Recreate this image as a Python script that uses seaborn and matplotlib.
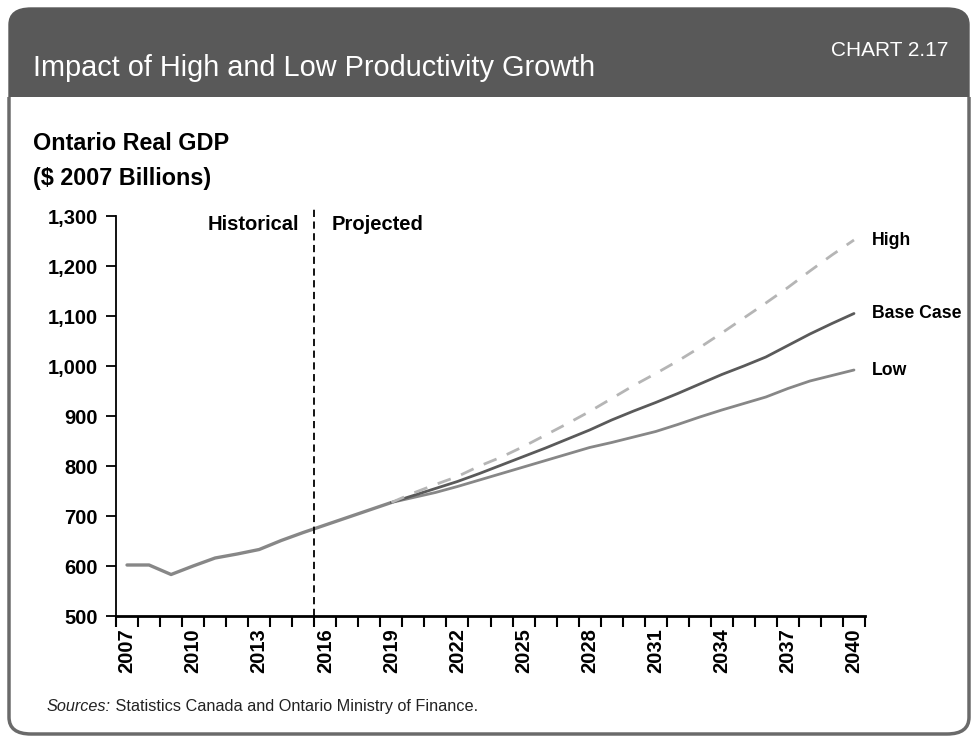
import matplotlib
matplotlib.use("Agg")
import matplotlib.pyplot as plt
import matplotlib.font_manager as fm
from matplotlib.patches import FancyBboxPatch, Rectangle
from matplotlib.ticker import FixedLocator, FuncFormatter
import numpy as np
import pandas as pd
import seaborn as sns

# ---------------- data ----------------
hist_years = list(range(2007, 2020))
historical = [602, 602, 583, 600, 616, 624, 633, 651, 667, 682, 697, 712, 727]

proj_years = list(range(2019, 2041))
high = [727, 746, 763, 779, 800, 818, 839, 862, 885, 909, 935, 961, 985, 1010,
        1037, 1066, 1096, 1126, 1157, 1190, 1222, 1252]
base_case = [727, 741, 755, 769, 785, 802, 819, 836, 854, 872, 892, 910, 927, 945,
             964, 983, 1000, 1018, 1041, 1064, 1085, 1105]
low = [727, 737, 747, 759, 772, 785, 798, 811, 824, 837, 847, 858, 869, 883,
       898, 912, 925, 938, 955, 970, 981, 992]

x_tick_labels = [str(y) for y in range(2007, 2041, 3)]
y_ticks = [500, 600, 700, 800, 900, 1000, 1100, 1200, 1300]
series_names = ["High", "Base Case", "Low"]

title = "Impact of High and Low Productivity Growth"
chart_no = "CHART 2.17"
ylabel_lines = ["Ontario Real GDP", "($ 2007 Billions)"]
source_italic = "Sources:"
source_text = " Statistics Canada and Ontario Ministry of Finance."

# ---------------- fonts ----------------
sns.set_theme(style="white")
names = {f.name for f in fm.fontManager.ttflist}
FONT = "Liberation Sans Narrow" if "Liberation Sans Narrow" in names else "Liberation Sans"
plt.rcParams["font.family"] = [FONT, "DejaVu Sans"]
plt.rcParams["text.color"] = "black"

W, H = 979, 742
fig = plt.figure(figsize=(W / 100, H / 100), dpi=100)
fig.patch.set_facecolor("white")


def fx(px):
    return px / W


def fy(py):
    return 1 - py / H


# ---------------- frame ----------------
L, R, T, B = 9, 969, 8, 734
HEADER_B = 97
rad = 22
outer = FancyBboxPatch((fx(L), fy(B)), fx(R - L), (B - T) / H,
                       boxstyle=f"round,pad=0,rounding_size={rad / W}",
                       transform=fig.transFigure, facecolor="#595959",
                       edgecolor="#595959", lw=1, zorder=-10)
fig.add_artist(outer)
body = FancyBboxPatch((fx(L), fy(B)), fx(R - L), (B - T) / H,
                      boxstyle=f"round,pad=0,rounding_size={rad / W}",
                      transform=fig.transFigure, facecolor="white",
                      edgecolor="#6a6a6a", lw=2.5, zorder=-9)
fig.add_artist(body)
clip = Rectangle((0, 0), 1, fy(HEADER_B), transform=fig.transFigure)
body.set_clip_path(clip)

fig.text(fx(33), fy(68), title, color="white", fontsize=20.8, va="center",
         ha="left", zorder=3)
fig.text(fx(948), fy(50), chart_no, color="white", fontsize=15, va="center",
         ha="right", zorder=3)

fig.text(fx(33), fy(143), ylabel_lines[0], fontsize=16.8, fontweight="bold",
         va="center", ha="left", color="black")
fig.text(fx(33), fy(178), ylabel_lines[1], fontsize=16.8, fontweight="bold",
         va="center", ha="left", color="black")

t1 = fig.text(fx(47), fy(711), source_italic, fontsize=11.7, style="italic",
              va="baseline", ha="left", color="#222222")
fig.canvas.draw()
bb = t1.get_window_extent()
fig.text(bb.x1 / W, fy(711), source_text, fontsize=11.7, va="baseline",
         ha="left", color="#222222")

# ---------------- axes ----------------
ax = fig.add_axes([fx(116), fy(616), fx(865 - 116), 400 / H])
ax.set_facecolor("none")
ax.set_zorder(5)

hist_df = pd.DataFrame({"Year": hist_years, "GDP": historical})
proj_df = pd.DataFrame({
    "Year": proj_years * 3,
    "GDP": high + base_case + low,
    "Scenario": ["High"] * len(proj_years) + ["Base Case"] * len(proj_years)
                + ["Low"] * len(proj_years),
})

sns.lineplot(data=hist_df, x="Year", y="GDP", ax=ax, color="#878787", lw=2.4,
             legend=False)
sns.lineplot(data=proj_df[proj_df.Scenario == "Low"], x="Year", y="GDP", ax=ax,
             color="#878787", lw=2.0, legend=False)
sns.lineplot(data=proj_df[proj_df.Scenario == "Base Case"], x="Year", y="GDP",
             ax=ax, color="#5a5a5a", lw=2.0, legend=False)
sns.lineplot(data=proj_df[proj_df.Scenario == "High"], x="Year", y="GDP", ax=ax,
             color="#b5b5b5", lw=2.0, legend=False)
ax.lines[-1].set_dashes([5, 4])

ax.set_xlim(2006.5, 2040.5)
ax.set_ylim(500, 1300)

ax.axvline(2015.5, ymin=0, ymax=1.017, color="black", lw=1.3, ls=(0, (4, 2.5)),
           clip_on=False)

for s in ["top", "right"]:
    ax.spines[s].set_visible(False)
ax.spines["left"].set_color("black")
ax.spines["left"].set_linewidth(1.3)
ax.spines["bottom"].set_color("black")
ax.spines["bottom"].set_linewidth(2.0)

ax.yaxis.set_major_locator(FixedLocator(y_ticks))
ax.yaxis.set_major_formatter(FuncFormatter(lambda v, p: f"{int(v):,}"))
ax.tick_params(axis="y", which="major", direction="out", length=7, width=1.3,
               color="black", labelsize=14.5, pad=6, left=True)

ax.set_xticks([int(t) for t in x_tick_labels])
ax.set_xticklabels(x_tick_labels, rotation=90)
ax.set_xticks(np.arange(2006.5, 2041, 1), minor=True)
ax.tick_params(axis="x", which="major", length=0, labelsize=14.5, pad=9)
ax.tick_params(axis="x", which="minor", direction="out", length=8, width=1.5,
               color="black", bottom=True)
for lab in ax.get_xticklabels() + ax.get_yticklabels():
    lab.set_fontweight("bold")
    lab.set_color("black")
ax.set_xlabel("")
ax.set_ylabel("")
ax.grid(False)

# annotations
ax.text(2014.82, 1283, "Historical", fontsize=14.5, fontweight="bold",
        ha="right", va="center", color="black")
ax.text(2016.3, 1283, "Projected", fontsize=14.5, fontweight="bold",
        ha="left", va="center", color="black")
for name, vals in zip(series_names, [high, base_case, low]):
    ax.annotate(name, xy=(proj_years[-1], vals[-1]), xytext=(13, 0),
                textcoords="offset points", fontsize=12.7, fontweight="bold",
                ha="left", va="center", annotation_clip=False, color="black")

fig.savefig("out.png", dpi=100, facecolor="white")
